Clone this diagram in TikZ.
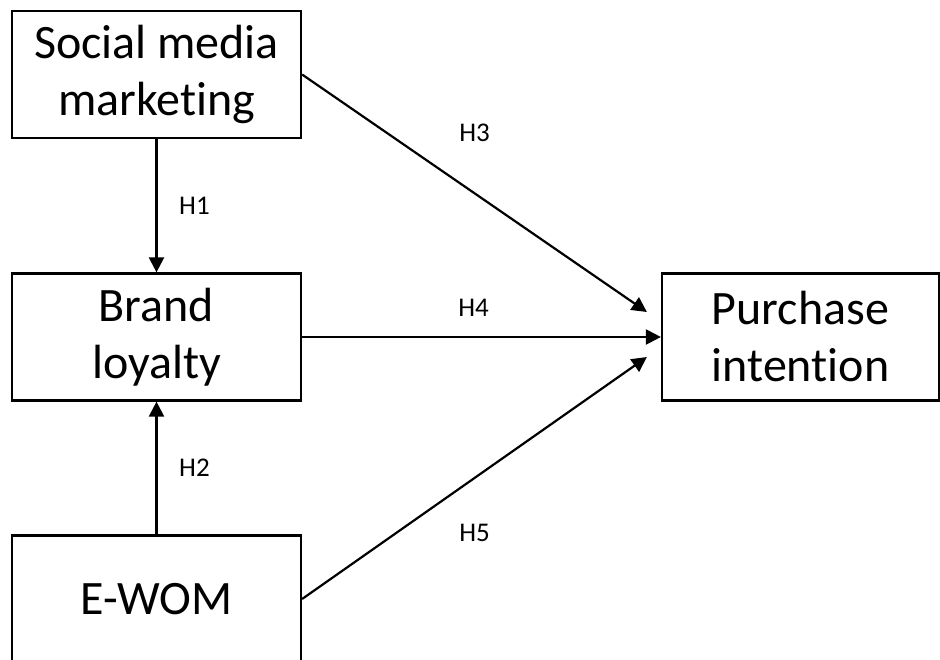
\documentclass[tikz,border=0pt]{standalone}
\usepackage{fontspec}
\setmainfont[Ligatures=NoCommon]{Carlito}
\usetikzlibrary{positioning,arrows.meta}

\tikzset{
  construct/.style={draw, line width=2.2pt, minimum width=289pt, minimum height=127pt,
    inner sep=0pt, align=center, font=\fontsize{48}{57}\selectfont},
  path/.style={line width=2.2pt, -{Triangle[length=15pt,width=15pt]}},
  hyp/.style={font=\fontsize{27}{32}\selectfont, inner sep=0pt}
}

\begin{document}
\begin{tikzpicture}[x=1pt, y=-1pt]
\useasboundingbox (0,0) rectangle (940,659);
\clip (0,0) rectangle (940,659);

\node[construct] (SMM) at (156.5,74.5) {Social media\\marketing};
\node[construct] (BL) at (156.5,337) {Brand\\loyalty};
\node[construct] (EW) at (156.5,599) {E-WOM};
\node[construct, minimum width=277pt] (PI) at (800.5,337) {Purchase\\intention};

\coordinate (PI3) at ([xshift=-14pt,yshift=25pt]PI.west);
\coordinate (PI5) at ([xshift=-14pt,yshift=-20pt]PI.west);

\draw
	(SMM) edge[path] node[hyp, xshift=38pt]{H1} (BL)
	(EW) edge[path] node[hyp, xshift=38pt]{H2} (BL)
	(SMM.east) edge[path] node[hyp, yshift=60pt]{H3} (PI3)
	(BL.east) edge[path] node[hyp, yshift=29pt, xshift=-8pt]{H4} (PI.west)
	(EW.east) edge[path] node[hyp, yshift=-55pt]{H5} (PI5)
;
\end{tikzpicture}
\end{document}
